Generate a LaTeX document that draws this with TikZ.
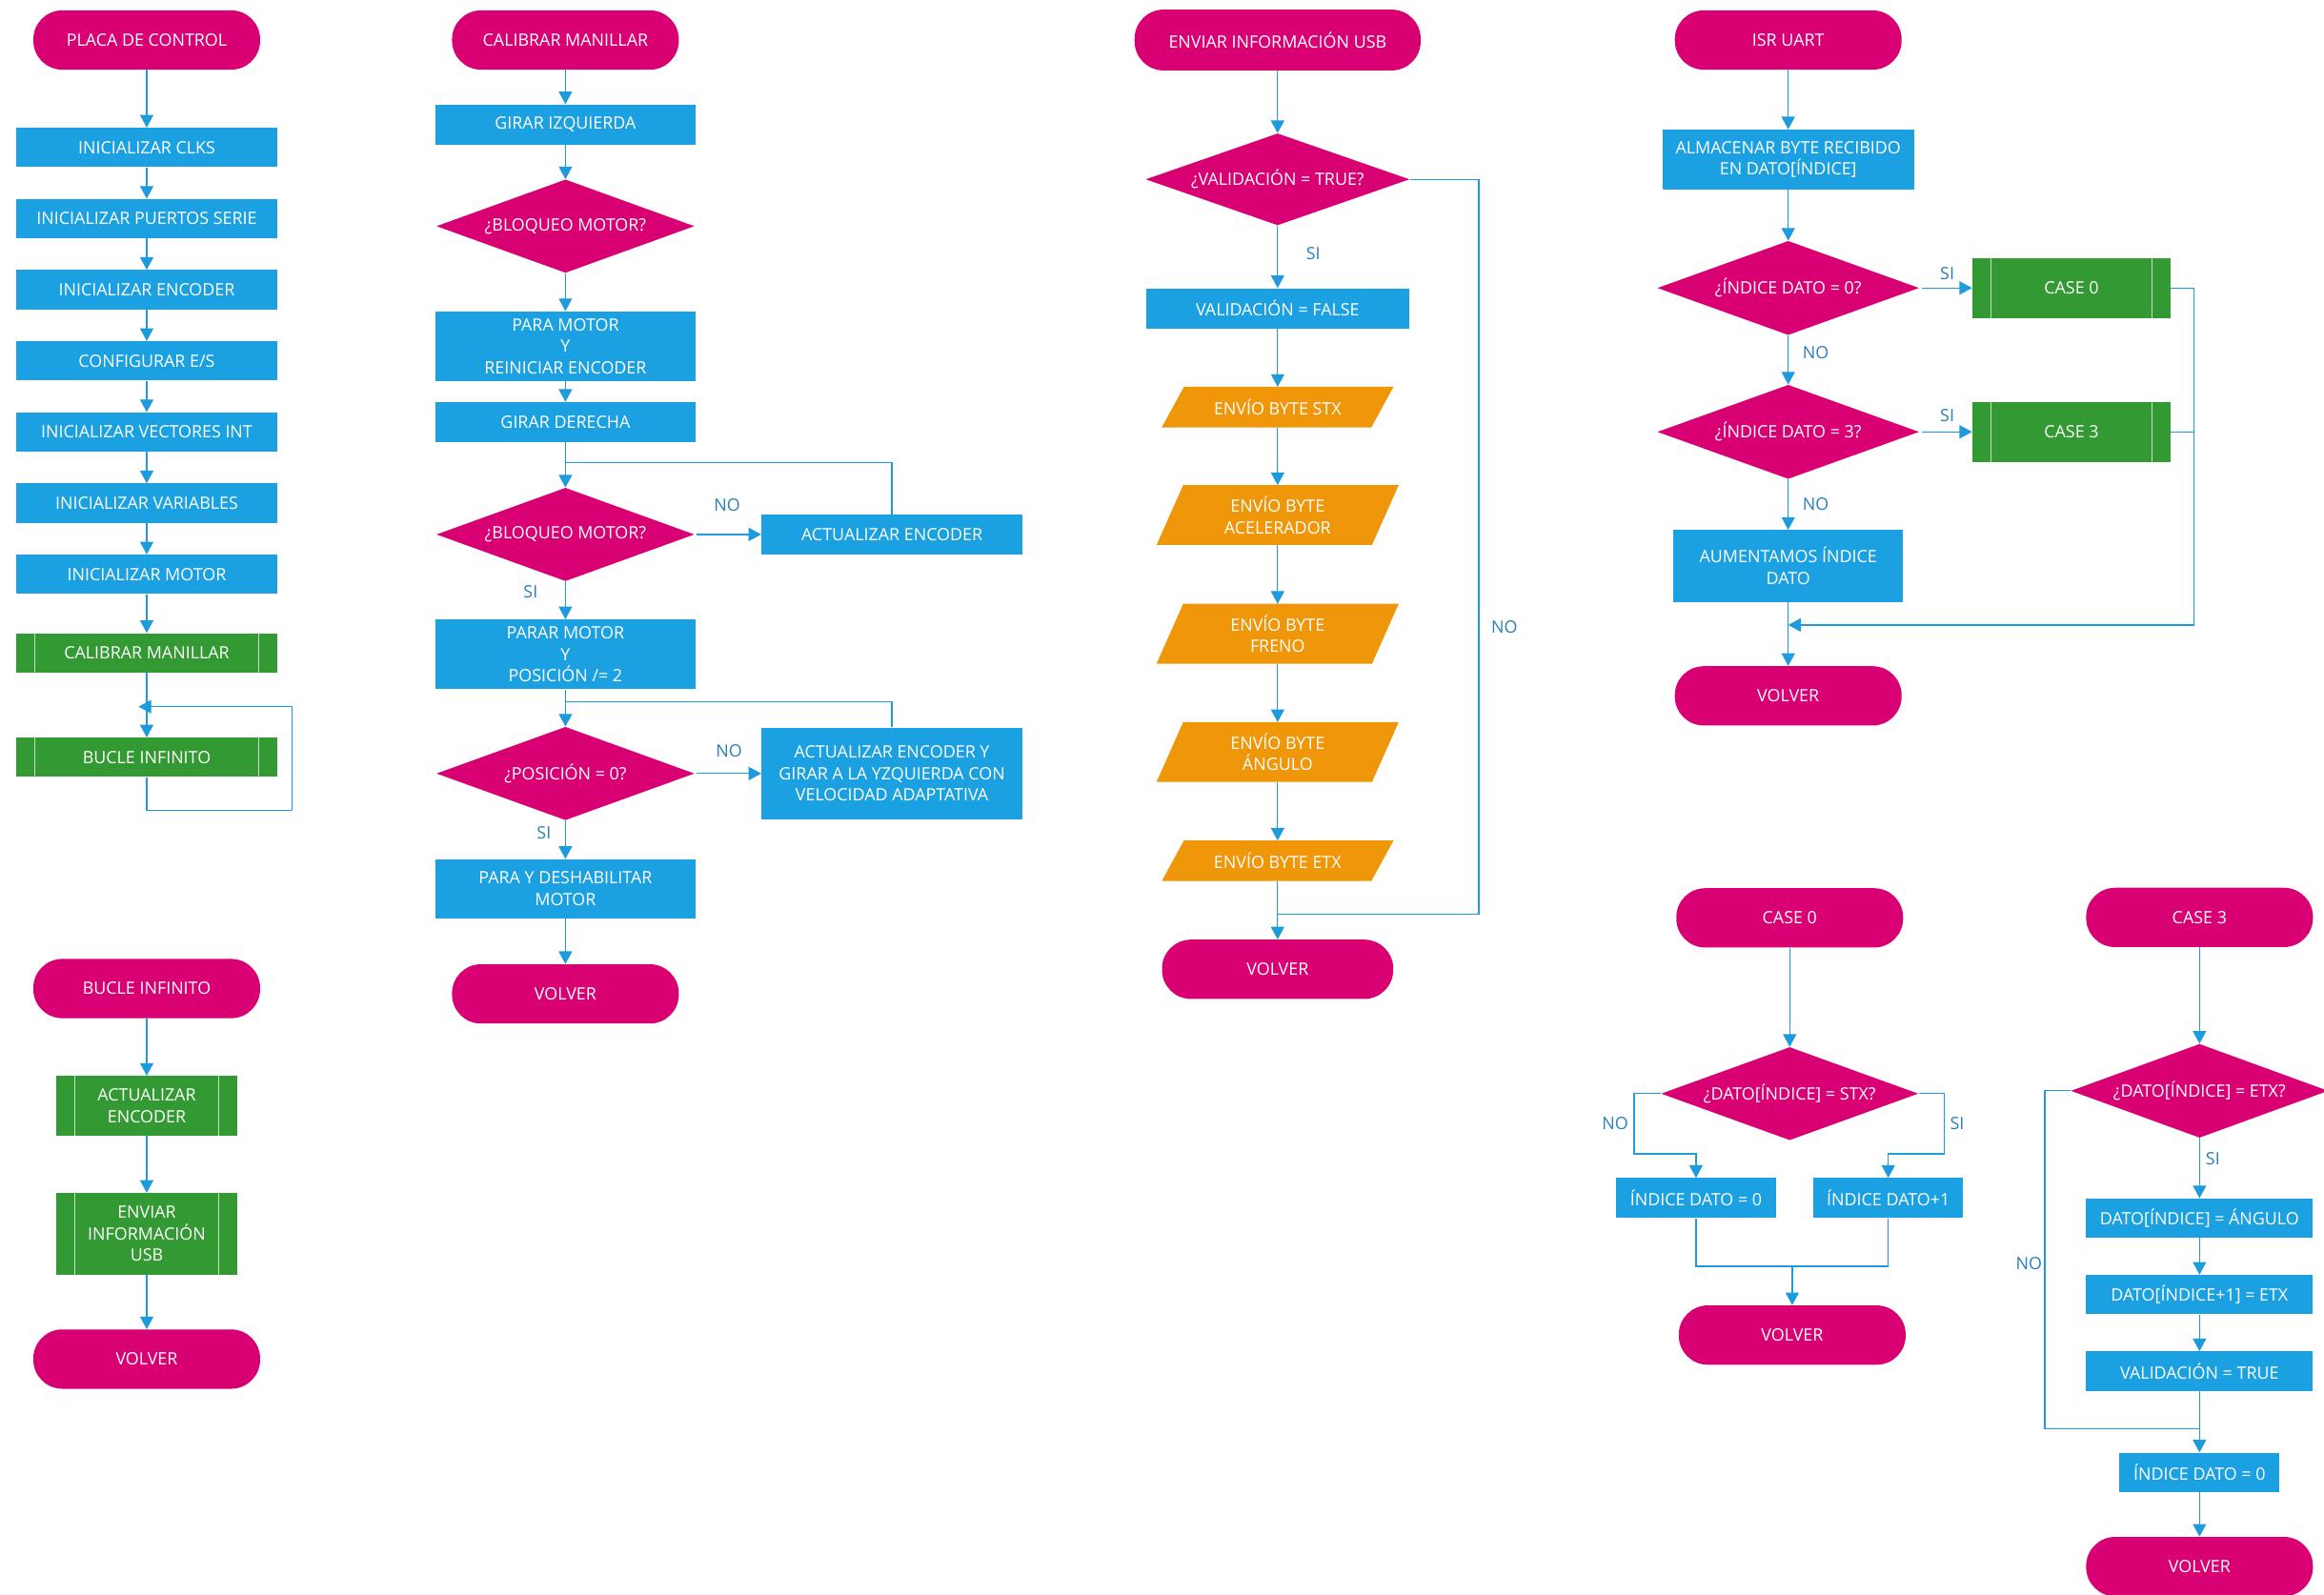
\documentclass[tikz,border=0pt]{standalone}
\usepackage{fontspec}
\setmainfont{Open Sans}
\usetikzlibrary{shapes.geometric,arrows.meta,calc}
\definecolor{cmag}{RGB}{216,0,115}
\definecolor{cblue}{RGB}{27,161,226}
\definecolor{cgreen}{RGB}{51,153,51}
\definecolor{corange}{RGB}{240,150,9}
\definecolor{cline}{RGB}{30,155,220}
\definecolor{clabel}{RGB}{42,128,185}
\pgfdeclarelayer{bg}
\pgfsetlayers{bg,main}
\newcommand\iofill[2]{\begin{pgfonlayer}{bg}\fill[corange] (#1.south west) -- ([xshift=#2pt]#1.north west) -- (#1.north east) -- ([xshift=-#2pt]#1.south east) -- cycle;\end{pgfonlayer}}
\begin{document}
\begin{tikzpicture}[x=1pt,y=-1pt,
  every node/.style={font=\fontsize{11.5}{14.6}\selectfont},
  term/.style={rectangle, rounded corners=19.5pt, fill=cmag, text=white, inner sep=0pt, align=center, minimum width=153pt, minimum height=40pt},
  proc/.style={rectangle, fill=cblue, text=white, inner sep=0pt, align=center, minimum width=176pt, minimum height=26.5pt},
  dec/.style={diamond, fill=cmag, text=white, inner sep=0pt, align=center, shape aspect=2.8, minimum width=174pt, minimum height=63pt},
  subr/.style={rectangle, fill=cgreen, text=white, inner sep=0pt, align=center, minimum width=176pt, minimum height=26.5pt,
    path picture={\draw[white!70!cgreen, line width=0.8pt]
      ([xshift=12.5pt]path picture bounding box.north west) -- ([xshift=12.5pt]path picture bounding box.south west)
      ([xshift=-12.5pt]path picture bounding box.north east) -- ([xshift=-12.5pt]path picture bounding box.south east);}},
  iobox/.style={rectangle, text=white, inner sep=0pt, align=center, minimum width=156pt, minimum height=27pt},
  arr/.style={draw=cline, line width=0.8pt, -{Triangle[length=8.5pt,width=9pt]}},
  ln/.style={draw=cline, line width=0.8pt},
  lbl/.style={text=clabel, inner sep=0pt}
]
\begin{pgfonlayer}{bg}\fill[white] (0,0) rectangle (1568,1076);\end{pgfonlayer}
\useasboundingbox (0,0) rectangle (1568,1076);

% ---------------- Column 1: PLACA DE CONTROL
\node[term] (t1) at (99,27) {PLACA DE CONTROL};
\node[proc] (p1) at (99,99.5) {INICIALIZAR CLKS};
\node[proc] (p2) at (99,147.5) {INICIALIZAR PUERTOS SERIE};
\node[proc] (p3) at (99,195.5) {INICIALIZAR ENCODER};
\node[proc] (p4) at (99,243.5) {CONFIGURAR E/S};
\node[proc] (p5) at (99,291.5) {INICIALIZAR VECTORES INT};
\node[proc] (p6) at (99,339.5) {INICIALIZAR VARIABLES};
\node[proc] (p7) at (99,387.5) {INICIALIZAR MOTOR};
\node[subr] (s1) at (99,440.5) {CALIBRAR MANILLAR};
\node[subr] (s2) at (99,511) {BUCLE INFINITO};
\draw[arr] (t1) -- (p1);
\draw[arr] (p1) -- (p2);
\draw[arr] (p2) -- (p3);
\draw[arr] (p3) -- (p4);
\draw[arr] (p4) -- (p5);
\draw[arr] (p5) -- (p6);
\draw[arr] (p6) -- (p7);
\draw[arr] (p7) -- (s1);
\draw[arr] (s1) -- (s2);
\coordinate (loopB) at (197,546.6);
\coordinate (loopT) at (197,476.8);
\draw[arr, shorten >=-5.5pt] (s2.south) |- (loopB) |- (s1.south |- loopT);

% ---------------- BUCLE INFINITO
\node[term] (t2) at (99,667) {BUCLE INFINITO};
\node[subr, minimum width=122pt, minimum height=40pt] (s3) at (99,746) {ACTUALIZAR\\ENCODER};
\node[subr, minimum width=122pt, minimum height=55pt] (s4) at (99,832.5) {ENVIAR\\INFORMACIÓN\\USB};
\node[term] (t3) at (99,917) {VOLVER};
\draw[arr] (t2) -- (s3);
\draw[arr] (s3) -- (s4);
\draw[arr] (s4) -- (t3);

% ---------------- Column 2: CALIBRAR MANILLAR
\node[term] (t4) at (381.5,27) {CALIBRAR MANILLAR};
\node[proc, minimum height=27pt] (q1) at (381.5,84) {GIRAR IZQUIERDA};
\node[dec] (d1) at (381.5,152.6) {¿BLOQUEO MOTOR?};
\node[proc, minimum height=47pt] (q2) at (381.5,233.6) {PARA MOTOR\\Y\\REINICIAR ENCODER};
\node[proc, minimum height=27pt] (q3) at (381.5,284.8) {GIRAR DERECHA};
\node[dec] (d2) at (381.5,360.6) {¿BLOQUEO MOTOR?};
\node[proc, minimum height=27pt] (q4) at (601.8,360.6) {ACTUALIZAR ENCODER};
\node[proc, minimum height=47pt] (q5) at (381.5,441.5) {PARAR MOTOR\\Y\\POSICIÓN /= 2};
\node[dec] (d3) at (381.5,521.9) {¿POSICIÓN = 0?};
\node[proc, minimum height=62pt] (q6) at (601.8,521.9) {ACTUALIZAR ENCODER Y\\GIRAR A LA YZQUIERDA CON\\VELOCIDAD ADAPTATIVA};
\node[proc, minimum height=40pt] (q7) at (381.5,599.7) {PARA Y DESHABILITAR\\MOTOR};
\node[term] (t5) at (381.5,670.6) {VOLVER};
\draw[arr] (t4) -- (q1);
\draw[arr] (q1) -- (d1);
\draw[arr] (d1) -- (q2);
\draw[arr] (q2) -- (q3);
\draw[arr] (q3) -- (d2);
\draw[arr, shorten <=1.5pt] (d2) -- (q4);
\coordinate (m1) at (381.5,312.3);
\draw[ln] (q4.north) |- (m1);
\draw[arr] (d2) -- (q5);
\draw[arr] (q5) -- (d3);
\coordinate (m2) at (381.5,473.7);
\draw[ln] (q6.north) |- (m2);
\draw[arr, shorten <=1.5pt] (d3) -- (q6);
\draw[arr] (d3) -- (q7);
\draw[arr] (q7) -- (t5);
\node[lbl] (l1) at (490.6,341) {NO};
\node[lbl] (l2) at (358,399) {SI};
\node[lbl] (l3) at (491.8,506.6) {NO};
\node[lbl] (l4) at (367,562) {SI};

% ---------------- Column 3: ENVIAR INFORMACION USB
\node[term, minimum width=193pt, minimum height=41pt] (t6) at (862,27) {ENVIAR INFORMACIÓN USB};
\node[dec, minimum width=178pt, minimum height=62pt] (d4) at (862,121) {¿VALIDACIÓN = TRUE?};
\node[proc, minimum width=177pt, minimum height=27pt] (r1) at (862,208) {VALIDACIÓN = FALSE};
\node[iobox] (o1) at (862,274.7) {ENVÍO BYTE STX};
\node[iobox, minimum width=163pt, minimum height=40pt] (o2) at (862,347.5) {ENVÍO BYTE\\ACELERADOR};
\node[iobox, minimum width=163pt, minimum height=40pt] (o3) at (862,427.6) {ENVÍO BYTE\\FRENO};
\node[iobox, minimum width=163pt, minimum height=40pt] (o4) at (862,507.4) {ENVÍO BYTE\\ÁNGULO};
\node[iobox] (o5) at (862,580.8) {ENVÍO BYTE ETX};
\iofill{o1}{15}
\iofill{o2}{18}
\iofill{o3}{18}
\iofill{o4}{18}
\iofill{o5}{15}
\node[term, minimum width=156pt] (t7) at (862,654) {VOLVER};
\draw[arr] (t6) -- (d4);
\draw[arr] (d4) -- (r1);
\draw[arr] (r1) -- (o1);
\draw[arr] (o1) -- (o2);
\draw[arr] (o2) -- (o3);
\draw[arr] (o3) -- (o4);
\draw[arr] (o4) -- (o5);
\draw[arr] (o5) -- (t7);
\coordinate (nA) at (997.7,617);
\draw[ln] (d4.east) -| (nA) -- (nA -| t7.north);
\node[lbl] (l5) at (886,171) {SI};
\node[lbl] (l6) at (1015,423) {NO};

% ---------------- Column 4: ISR UART
\node[term, minimum width=153pt] (t8) at (1206.5,27) {ISR UART};
\node[proc, minimum width=170pt, minimum height=40.5pt] (r2) at (1206.5,107.7) {ALMACENAR BYTE RECIBIDO\\EN DATO[ÍNDICE]};
\node[dec, minimum width=176.5pt, minimum height=63.5pt] (d5) at (1206.5,194.3) {¿ÍNDICE DATO = 0?};
\node[subr, minimum width=133.7pt, minimum height=40.5pt] (c0) at (1397.6,194.3) {CASE 0};
\node[dec, minimum width=176.5pt, minimum height=63.5pt] (d6) at (1206.5,291.4) {¿ÍNDICE DATO = 3?};
\node[subr, minimum width=133.7pt, minimum height=40.5pt] (c3) at (1397.6,291.4) {CASE 3};
\node[proc, minimum width=155pt, minimum height=48.5pt] (r3) at (1206.5,381.9) {AUMENTAMOS ÍNDICE\\DATO};
\node[term, minimum width=153pt] (t9) at (1206.5,469.5) {VOLVER};
\draw[arr] (t8) -- (r2);
\draw[arr] (r2) -- (d5);
\draw[arr, shorten <=1.5pt] (d5) -- (c0);
\draw[arr] (d5) -- (d6);
\draw[arr, shorten <=1.5pt] (d6) -- (c3);
\draw[arr] (d6) -- (r3);
\coordinate (mr) at (1480,421.7);
\draw[arr] (c0.east) -| (mr) -- (mr -| r3.south);
\draw[ln] (c3.east) -- (c3.east -| mr);
\draw[arr] (r3) -- (t9);
\node[lbl] (l7) at (1313.8,184.8) {SI};
\node[lbl] (l8) at (1225,237.9) {NO};
\node[lbl] (l9) at (1313.8,280.6) {SI};
\node[lbl] (l10) at (1225,340) {NO};

% ---------------- CASE 0
\node[term] (t10) at (1207.5,619.3) {CASE 0};
\node[dec, minimum width=173.5pt, minimum height=62.8pt] (d7) at (1207.5,737.9) {¿DATO[ÍNDICE] = STX?};
\node[proc, minimum width=108pt, minimum height=27pt] (r4) at (1144.3,808.4) {ÍNDICE DATO = 0};
\node[proc, minimum width=101pt, minimum height=27pt] (r5) at (1274,808.4) {ÍNDICE DATO+1};
\node[term] (t11) at (1209.2,900.8) {VOLVER};
\draw[arr] (t10) -- (d7);
\coordinate (b0) at (1102.5,778.5);
\coordinate (b1) at (1311.9,778.5);
\draw[arr] (d7.west) -| (b0) -| (r4.north);
\draw[arr] (d7.east) -| (b1) -| (r5.north);
\coordinate (m0) at (1209.2,854.4);
\draw[ln] (r4.south) |- (m0) -| (r5.south);
\draw[arr] (m0) -- (t11);
\node[lbl] (l11) at (1089.7,758.2) {NO};
\node[lbl] (l12) at (1320.5,758.2) {SI};

% ---------------- CASE 3
\node[term] (t12) at (1484,619) {CASE 3};
\node[dec, minimum width=173.6pt, minimum height=63.3pt] (d8) at (1484,736) {¿DATO[ÍNDICE] = ETX?};
\node[proc, minimum width=153pt] (r6) at (1484,821.9) {DATO[ÍNDICE] = ÁNGULO};
\node[proc, minimum width=153pt] (r7) at (1484,873.5) {DATO[ÍNDICE+1] = ETX};
\node[proc, minimum width=153pt] (r8) at (1484,925.1) {VALIDACIÓN = TRUE};
\node[proc, minimum width=108pt] (r9) at (1484,993.4) {ÍNDICE DATO = 0};
\node[term] (t13) at (1484,1057) {VOLVER};
\draw[arr] (t12) -- (d8);
\draw[arr] (d8) -- (r6);
\draw[arr] (r6) -- (r7);
\draw[arr] (r7) -- (r8);
\draw[arr] (r8) -- (r9);
\draw[arr] (r9) -- (t13);
\coordinate (b3) at (1379.6,963.9);
\draw[ln] (d8.west) -| (b3) -- (b3 -| r9.north);
\node[lbl] (l13) at (1493,781.5) {SI};
\node[lbl] (l14) at (1368.9,852.7) {NO};
\end{tikzpicture}
\end{document}
